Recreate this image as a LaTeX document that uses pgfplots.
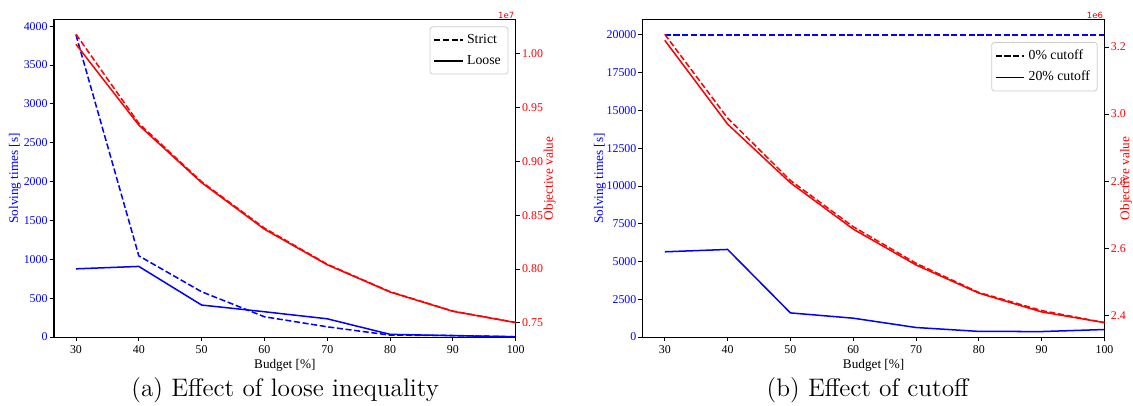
\documentclass[border=0pt]{standalone}
\usepackage{fontspec}
\usepackage{pgfplots}
\pgfplotsset{compat=1.18}
\newfontfamily\timesfont{Liberation Serif}
\newfontfamily\dejavu{DejaVu Sans}

\definecolor{mblue}{RGB}{0,0,255}
\definecolor{mred}{RGB}{255,0,0}
\tikzset{mdash/.style={dash pattern=on 3.2pt off 1.4pt}}

\pgfplotsset{
  twin/.style={
    scale only axis, width=244.5pt, height=168pt,
    xmin=26.5, xmax=100,
    tick align=outside, major tick length=2.3pt,
    every tick/.append style={black, line width=0.5pt},
    axis line style={line width=0.6pt},
    scaled y ticks=false,
    /pgf/number format/assume math mode=true,
    /pgf/number format/1000 sep={},
    tick label style={font=\timesfont\fontsize{6.3}{7}\selectfont, inner sep=0.9pt},
    label style={font=\timesfont\fontsize{7}{8}\selectfont},
    clip mode=individual,
    anchor=south west,
  },
  leftside/.style={
    twin,
    xtick={30,40,...,100}, xtick pos=left, ytick pos=left,
    ymin=0,
    yticklabel style={mblue},
    xticklabel style={yshift=-1pt},
    xlabel={Budget [\%]},
    xlabel style={at={(axis description cs:0.5,-0.088)}, anchor=center},
    ylabel={Solving times [s]},
    ylabel style={mblue, anchor=center},
  },
  rightside/.style={
    twin,
    axis x line=none, axis y line*=right,
    yticklabel style={mred},
    ylabel={Objective value},
    ylabel style={mred, anchor=center},
    legend cell align=left,
    legend style={draw=black!20, rounded corners=1.5pt, fill=white,
      font=\timesfont\fontsize{7.3}{8}\selectfont, inner sep=1.8pt,
      row sep=0.8pt, anchor=north east},
    legend image code/.code={\draw[#1] (0pt,0pt) -- (15pt,0pt);},
  },
}

\begin{document}
\begin{tikzpicture}
\path[use as bounding box] (0,0) rectangle (600pt,214.5pt);

% ---------- (a) loose inequality ----------
\begin{axis}[leftside, at={(28.6pt,36pt)},
  ymax=4082, ytick={0,500,...,4000},
  ylabel style={at={(axis description cs:-0.0845,0.5)}}]
\addplot[mblue, line width=0.8pt, mdash] coordinates {
  (30,3888) (40,1045) (50,583) (60,261) (70,132) (80,25) (90,20) (100,3)};
\addplot[mblue, line width=0.8pt] coordinates {
  (30,878) (40,909) (50,412) (60,326) (70,235) (80,35) (90,18) (100,5)};
\end{axis}
\begin{axis}[rightside, at={(28.6pt,36pt)},
  ymin=0.7369, ymax=1.0313, ytick={0.75,0.80,...,1.00},
  yticklabel style={/pgf/number format/.cd, fixed, fixed zerofill, precision=2},
  ylabel style={at={(axis description cs:1.0736,0.5)}},
  legend style={at={(0.984,0.979)}}]
\addplot[mred, line width=0.8pt, mdash, forget plot] coordinates {
  (30,1.0179) (40,0.9352) (50,0.8810) (60,0.8380) (70,0.8045) (80,0.7790) (90,0.7610) (100,0.7505)};
\addplot[mred, line width=0.8pt, forget plot] coordinates {
  (30,1.0086) (40,0.9336) (50,0.8802) (60,0.8370) (70,0.8040) (80,0.7787) (90,0.7608) (100,0.7503)};
\addlegendimage{black, line width=0.8pt, mdash}
\addlegendentry{Strict}
\addlegendimage{black, line width=0.8pt}
\addlegendentry{Loose}
\node[anchor=south east, text=mred, font=\dejavu\fontsize{4.5}{5}\selectfont, inner sep=0.6pt]
  at (rel axis cs:1,1) {1e7};
\end{axis}

% ---------- (b) cutoff ----------
\begin{axis}[leftside, at={(340.4pt,36pt)},
  ymax=21000, ytick={0,2500,...,20000},
  ylabel style={at={(axis description cs:-0.0926,0.5)}}]
\addplot[mblue, line width=0.8pt, mdash] coordinates {
  (30,20000) (40,20000) (50,20000) (60,20000) (70,20000) (80,20000) (90,20000) (100,20000)};
\addplot[mblue, line width=0.8pt] coordinates {
  (30,5645) (40,5800) (50,1600) (60,1250) (70,633) (80,375) (90,365) (100,500)};
\end{axis}
\begin{axis}[rightside, at={(340.4pt,36pt)},
  ymin=2.335, ymax=3.281, ytick={2.4,2.6,...,3.2},
  yticklabel style={/pgf/number format/.cd, fixed, fixed zerofill, precision=1},
  ylabel style={at={(axis description cs:1.047,0.5)}},
  legend style={at={(0.985,0.930)}}]
\addplot[mred, line width=0.8pt, mdash, forget plot] coordinates {
  (30,3.2378) (40,2.988) (50,2.802) (60,2.664) (70,2.555) (80,2.468) (90,2.414) (100,2.378)};
\addplot[mred, line width=0.8pt, forget plot] coordinates {
  (30,3.220) (40,2.970) (50,2.795) (60,2.657) (70,2.550) (80,2.466) (90,2.410) (100,2.378)};
\addlegendimage{black, line width=0.8pt, mdash}
\addlegendentry{0\% cutoff}
\addlegendimage{black, line width=0.8pt}
\addlegendentry{20\% cutoff}
\node[anchor=south east, text=mred, font=\dejavu\fontsize{4.5}{5}\selectfont, inner sep=0.6pt]
  at (rel axis cs:1,1) {1e6};
\end{axis}

\node[font=\fontsize{13.4}{15}\selectfont] at (151pt,7.9pt) {(a) Effect of loose inequality};
\node[font=\fontsize{13.4}{15}\selectfont] at (459.5pt,7.9pt) {(b) Effect of cutoff};
\end{tikzpicture}
\end{document}
